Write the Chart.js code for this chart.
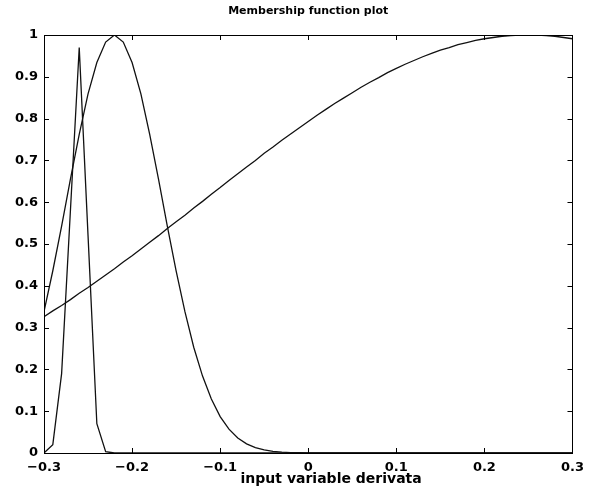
<!DOCTYPE html>
<html>
<head>
<meta charset="utf-8">
<script src="https://cdn.jsdelivr.net/npm/chart.js@4/dist/chart.umd.min.js"></script>
<style>
  html, body { margin: 0; padding: 0; background: #ffffff; }
  #wrap { width: 591px; height: 489px; }
</style>
</head>
<body>
<div id="wrap"><canvas id="c" width="591" height="489"></canvas></div>
<script>
const xValues = [-0.30,-0.29,-0.28,-0.27,-0.26,-0.25,-0.24,-0.23,-0.22,-0.21,
  -0.20,-0.19,-0.18,-0.17,-0.16,-0.15,-0.14,-0.13,-0.12,-0.11,
  -0.10,-0.09,-0.08,-0.07,-0.06,-0.05,-0.04,-0.03,-0.02,-0.01,
  0.00,0.01,0.02,0.03,0.04,0.05,0.06,0.07,0.08,0.09,
  0.10,0.11,0.12,0.13,0.14,0.15,0.16,0.17,0.18,0.19,
  0.20,0.21,0.22,0.23,0.24,0.25,0.26,0.27,0.28,0.29,0.30];

const narrowMF = [0,0.02,0.19,0.58,0.97,0.52,0.07,0.003,0,0,
  0,0,0,0,0,0,0,0,0,0,
  0,0,0,0,0,0,0,0,0,0,
  0,0,0,0,0,0,0,0,0,0,
  0,0,0,0,0,0,0,0,0,0,
  0,0,0,0,0,0,0,0,0,0,0];

const middleMF = [0.338,0.436,0.543,0.655,0.762,0.859,0.934,0.983,1.0,0.983,
  0.934,0.859,0.762,0.655,0.543,0.436,0.338,0.253,0.184,0.129,
  0.087,0.057,0.036,0.022,0.013,0.0075,0.0041,0.0022,0.0011,0.0006,
  0.0003,0.0001,0,0,0,0,0,0,0,0,
  0,0,0,0,0,0,0,0,0,0,
  0,0,0,0,0,0,0,0,0,0,0];

const wideMF = [0.326,0.340,0.353,0.367,0.382,0.396,0.411,0.426,0.441,0.457,
  0.472,0.488,0.504,0.520,0.537,0.553,0.569,0.586,0.602,0.619,
  0.635,0.652,0.668,0.684,0.700,0.717,0.732,0.748,0.763,0.778,
  0.793,0.808,0.822,0.836,0.849,0.862,0.875,0.887,0.898,0.910,
  0.920,0.930,0.939,0.948,0.956,0.964,0.970,0.977,0.982,0.987,
  0.991,0.994,0.997,0.9985,0.9996,1.0,0.9996,0.9985,0.997,0.994,0.991];

const xTickLabels = ['\u22120.3','\u22120.2','\u22120.1','0','0.1','0.2','0.3'];
const yTickLabels = ['0','0.1','0.2','0.3','0.4','0.5','0.6','0.7','0.8','0.9','1'];
const chartTitle = 'Membership function plot';
const xAxisTitle = 'input variable derivata';

function toPoints(ys) { return xValues.map((x, i) => ({ x: x, y: ys[i] })); }

const lineStyle = { borderColor: '#111111', borderWidth: 1.3, pointRadius: 0, tension: 0, fill: false };

const boxPlugin = {
  id: 'matlabBox',
  afterDraw(chart) {
    const ctx = chart.ctx;
    const a = chart.chartArea;
    const xs = chart.scales.x, ys = chart.scales.y;
    ctx.save();
    ctx.strokeStyle = '#000000';
    ctx.lineWidth = 1;
    ctx.strokeRect(Math.round(a.left) + 0.5, Math.round(a.top) + 0.5,
                   Math.round(a.right - a.left), Math.round(a.bottom - a.top));
    const L = 5;
    ctx.beginPath();
    xs.ticks.forEach(t => {
      const px = Math.round(xs.getPixelForValue(t.value)) + 0.5;
      ctx.moveTo(px, a.bottom); ctx.lineTo(px, a.bottom - L);
      ctx.moveTo(px, a.top); ctx.lineTo(px, a.top + L);
    });
    ys.ticks.forEach(t => {
      const py = Math.round(ys.getPixelForValue(t.value)) + 0.5;
      ctx.moveTo(a.left, py); ctx.lineTo(a.left + L, py);
      ctx.moveTo(a.right, py); ctx.lineTo(a.right - L, py);
    });
    ctx.stroke();
    // x axis label
    ctx.fillStyle = '#000000';
    ctx.font = 'bold 14px "DejaVu Sans"';
    ctx.textAlign = 'center';
    ctx.textBaseline = 'middle';
    ctx.fillText(xAxisTitle, xs.getPixelForValue(0.026), 479);
    ctx.restore();
  }
};

new Chart(document.getElementById('c'), {
  type: 'line',
  data: {
    datasets: [
      Object.assign({ label: 'mf1', data: toPoints(narrowMF) }, lineStyle),
      Object.assign({ label: 'mf2', data: toPoints(middleMF) }, lineStyle),
      Object.assign({ label: 'mf3', data: toPoints(wideMF) }, lineStyle)
    ]
  },
  options: {
    responsive: false,
    animation: false,
    layout: { padding: { left: 0, right: 17, top: 0, bottom: 0 } },
    plugins: { legend: { display: false }, tooltip: { enabled: false }, title: { display: false } },
    scales: {
      x: {
        type: 'linear', position: 'bottom', min: -0.3, max: 0.3,
        grid: { display: false, drawTicks: false },
        border: { display: false },
        ticks: {
          stepSize: 0.1, padding: 7, color: '#000000', maxRotation: 0, autoSkip: false,
          font: { family: 'DejaVu Sans', size: 13, weight: 'bold' },
          callback: (v, i) => xTickLabels[i]
        },
        afterFit: (s) => { s.height = 36; }
      },
      x2: {
        type: 'linear', position: 'top', min: -0.3, max: 0.3, display: true,
        grid: { display: false, drawTicks: false },
        border: { display: false },
        ticks: { display: false },
        title: {
          display: true, text: chartTitle, color: '#000000',
          font: { family: 'DejaVu Sans', size: 11, weight: 'bold' },
          padding: { top: 5, bottom: 0 }
        },
        afterFit: (s) => { s.height = 35; }
      },
      y: {
        type: 'linear', position: 'left', min: 0, max: 1,
        grid: { display: false, drawTicks: false },
        border: { display: false },
        ticks: {
          stepSize: 0.1, padding: 6, color: '#000000', autoSkip: false,
          font: { family: 'DejaVu Sans', size: 13, weight: 'bold' },
          callback: (v, i) => yTickLabels[i]
        },
        afterFit: (s) => { s.width = 44; }
      }
    }
  },
  plugins: [boxPlugin]
});
</script>
</body>
</html>
